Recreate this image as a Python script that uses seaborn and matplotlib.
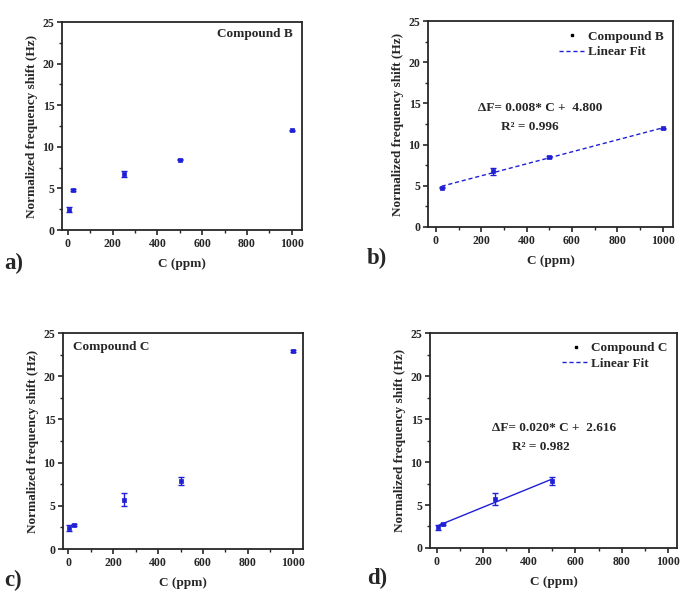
import numpy as np
import pandas as pd
import seaborn as sns
import matplotlib.pyplot as plt
from matplotlib.lines import Line2D
from matplotlib.ticker import MultipleLocator

# data
conc_b = [5, 25, 250, 500, 1000]
shift_b = [2.41, 4.78, 6.75, 8.47, 11.97]
err_b = [0.3, 0.1, 0.4, 0.1, 0.1]

conc_c = [5, 25, 250, 500, 1000]
shift_c = [2.43, 2.8, 5.7, 7.83, 22.96]
err_c = [0.3, 0.1, 0.73, 0.46, 0.1]

sns.set_style("ticks")
plt.rcParams['font.family'] = ['Liberation Serif', 'DejaVu Serif']
plt.rcParams['font.weight'] = 'bold'
plt.rcParams['axes.labelweight'] = 'bold'

BLUE = '#1f1fd6'

fig = plt.figure(figsize=(6.83, 5.95), dpi=100)
ax_a = fig.add_axes([0.0908, 0.6134, 0.351, 0.3496])
ax_b = fig.add_axes([0.6266, 0.6185, 0.3587, 0.346])
ax_c = fig.add_axes([0.0922, 0.0773, 0.351, 0.363])
ax_d = fig.add_axes([0.6296, 0.0790, 0.3616, 0.3613])


def style_axes(ax, xlim):
    ax.set_xlim(*xlim)
    ax.set_ylim(0, 25)
    ax.xaxis.set_major_locator(MultipleLocator(200))
    ax.xaxis.set_minor_locator(MultipleLocator(100))
    ax.yaxis.set_major_locator(MultipleLocator(5))
    ax.yaxis.set_minor_locator(MultipleLocator(2.5))
    ax.tick_params(which='major', direction='out', length=3.5, width=1.2, labelsize=8.5, pad=2)
    ax.tick_params(which='minor', direction='out', length=2, width=1.0)
    for lab in ax.get_xticklabels() + ax.get_yticklabels():
        lab.set_fontweight('bold')
    for sp in ax.spines.values():
        sp.set_visible(True)
        sp.set_linewidth(1.3)
    ax.set_xlabel('C (ppm)', fontsize=9.5, fontweight='bold', labelpad=6)
    ax.set_ylabel('Normalized frequency shift (Hz)', fontsize=9.5, fontweight='bold', labelpad=3)


def draw_points(ax, x, y, e):
    ax.errorbar(x, y, yerr=e, fmt='none', ecolor=BLUE, elinewidth=1.0, capsize=2, capthick=1.0)
    sns.scatterplot(x=x, y=y, ax=ax, color=BLUE, marker='s', s=6, edgecolor=BLUE, linewidth=0.5, zorder=3)


def add_legend(ax, name, ls):
    handles = [Line2D([], [], color='black', marker='s', markersize=1.5, linestyle='none'),
               Line2D([], [], color=BLUE, linestyle=ls, linewidth=1.0, dashes=(3, 2))]
    leg = ax.legend(handles, [name, 'Linear Fit'], loc='upper right', frameon=False,
                    prop={'family': 'Liberation Serif', 'weight': 'bold', 'size': 9.5},
                    handlelength=2.0, handletextpad=0.2, borderaxespad=0.3, labelspacing=0.25)
    return leg


# a) Compound B raw
draw_points(ax_a, conc_b, shift_b, err_b)
style_axes(ax_a, (-26, 1045))
ax_a.text(0.9625, 0.942, 'Compound B', transform=ax_a.transAxes, ha='right', va='center',
          fontsize=9.5, fontweight='bold')

# b) Compound B with linear fit (without the 5 ppm point)
fit_df_b = pd.DataFrame({'C': conc_b[1:], 'F': shift_b[1:]})
sns.regplot(data=fit_df_b, x='C', y='F', ax=ax_b, scatter=False, ci=None,
            line_kws={'color': BLUE, 'linestyle': '--', 'linewidth': 1.0, 'dashes': (3, 2)})
draw_points(ax_b, conc_b[1:], shift_b[1:], err_b[1:])
style_axes(ax_b, (-35, 1045))
add_legend(ax_b, 'Compound B', '--')
ax_b.text(0.205, 0.578, 'ΔF= 0.008* C +  4.800', transform=ax_b.transAxes,
          ha='left', va='center', fontsize=9.5, fontweight='bold')
ax_b.text(0.415, 0.485, 'R² = 0.996', transform=ax_b.transAxes,
          ha='center', va='center', fontsize=9.5, fontweight='bold')

# c) Compound C raw
draw_points(ax_c, conc_c, shift_c, err_c)
style_axes(ax_c, (-24, 1044))
ax_c.text(0.042, 0.935, 'Compound C', transform=ax_c.transAxes, ha='left', va='center',
          fontsize=9.5, fontweight='bold')

# d) Compound C with linear fit (up to 500 ppm)
fit_df_c = pd.DataFrame({'C': conc_c[:4], 'F': shift_c[:4]})
sns.regplot(data=fit_df_c, x='C', y='F', ax=ax_d, scatter=False, ci=None,
            line_kws={'color': BLUE, 'linestyle': '-', 'linewidth': 1.0})
draw_points(ax_d, conc_c[:4], shift_c[:4], err_c[:4])
style_axes(ax_d, (-30, 1040))
add_legend(ax_d, 'Compound C', '--')
ax_d.text(0.25, 0.56, 'ΔF= 0.020* C +  2.616', transform=ax_d.transAxes,
          ha='left', va='center', fontsize=9.5, fontweight='bold')
ax_d.text(0.45, 0.47, 'R² = 0.982', transform=ax_d.transAxes,
          ha='center', va='center', fontsize=9.5, fontweight='bold')

# panel letters
for lab, (px, py) in {'a)': (4, 263), 'b)': (367, 258), 'c)': (4, 580), 'd)': (367, 578)}.items():
    fig.text(px / 683, 1 - py / 595, lab, ha='left', va='center', fontsize=16.5, fontweight='bold')

fig.savefig('out.png', dpi=100)
